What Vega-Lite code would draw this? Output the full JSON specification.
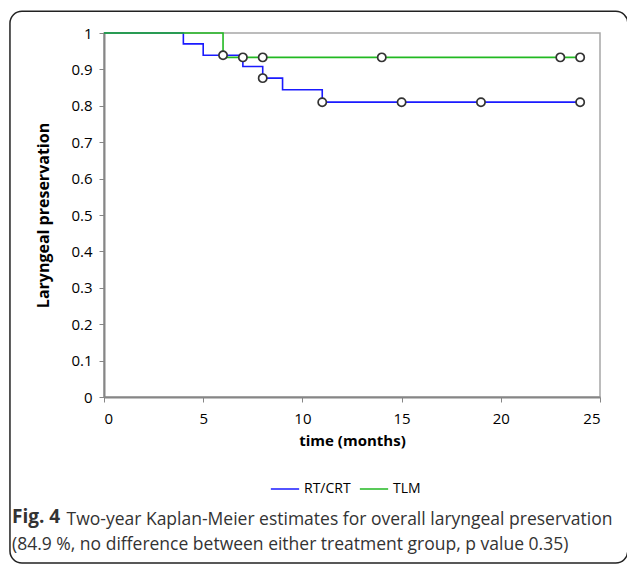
{
  "$schema": "https://vega.github.io/schema/vega-lite/v6.json",
  "width": 496,
  "height": 364,
  "autosize": {"type": "none"},
  "padding": {"left": 104, "top": 33, "right": 27, "bottom": 168},
  "background": "white",
  "datasets": {
    "curves": [
      {"group": "RT/CRT", "time": 0, "surv": 1},
      {"group": "RT/CRT", "time": 4, "surv": 0.97},
      {"group": "RT/CRT", "time": 5, "surv": 0.939},
      {"group": "RT/CRT", "time": 7, "surv": 0.908},
      {"group": "RT/CRT", "time": 8, "surv": 0.876},
      {"group": "RT/CRT", "time": 9, "surv": 0.844},
      {"group": "RT/CRT", "time": 11, "surv": 0.81},
      {"group": "RT/CRT", "time": 24, "surv": 0.81},
      {"group": "TLM", "time": 0, "surv": 1},
      {"group": "TLM", "time": 6, "surv": 0.933},
      {"group": "TLM", "time": 24, "surv": 0.933}
    ],
    "censored": [
      {"group": "RT/CRT", "time": 6, "surv": 0.939},
      {"group": "RT/CRT", "time": 8, "surv": 0.876},
      {"group": "RT/CRT", "time": 11, "surv": 0.81},
      {"group": "RT/CRT", "time": 15, "surv": 0.81},
      {"group": "RT/CRT", "time": 19, "surv": 0.81},
      {"group": "RT/CRT", "time": 24, "surv": 0.81},
      {"group": "TLM", "time": 7, "surv": 0.933},
      {"group": "TLM", "time": 8, "surv": 0.933},
      {"group": "TLM", "time": 14, "surv": 0.933},
      {"group": "TLM", "time": 23, "surv": 0.933},
      {"group": "TLM", "time": 24, "surv": 0.933}
    ]
  },
  "title": {
    "text": "Fig. 4",
    "orient": "bottom",
    "anchor": "start",
    "frame": "group",
    "dx": -92,
    "offset": -56,
    "font": "Open Sans",
    "fontSize": 19,
    "fontWeight": "bold",
    "color": "#333333",
    "subtitle": [
      "\u200b\u00a0\u00a0\u00a0\u00a0\u00a0\u00a0\u00a0\u00a0\u00a0\u00a0\u00a0\u00a0Two-year Kaplan-Meier estimates for overall laryngeal preservation",
      "(84.9 %, no difference between either treatment group, p value 0.35)"
    ],
    "subtitleFont": "Open Sans",
    "subtitleFontSize": 17.5,
    "subtitleFontWeight": "normal",
    "subtitleColor": "#333333",
    "subtitleLineHeight": 25,
    "subtitlePadding": -16
  },
  "config": {
    "view": {"stroke": "#a6a6a6", "strokeWidth": 1.5},
    "axis": {
      "grid": false,
      "domainColor": "#868686",
      "domainWidth": 2,
      "tickColor": "#868686",
      "tickWidth": 1,
      "tickSize": 5,
      "labelFont": "Open Sans",
      "labelFontSize": 15,
      "labelColor": "#000000",
      "titleFont": "Open Sans",
      "titleFontWeight": "bold",
      "titleColor": "#000000"
    },
    "legend": {
      "labelFont": "Open Sans",
      "labelFontSize": 14,
      "labelColor": "#000000"
    }
  },
  "layer": [
    {
      "data": {"name": "curves"},
      "mark": {"type": "line", "interpolate": "step-after", "strokeWidth": 1.6},
      "encoding": {
        "x": {
          "field": "time",
          "type": "quantitative",
          "scale": {"domain": [0, 25], "nice": false},
          "axis": {
            "values": [0, 5, 10, 15, 20, 25],
            "title": "time (months)",
            "titleFontSize": 15,
            "labelPadding": 9,
            "titlePadding": 7
          }
        },
        "y": {
          "field": "surv",
          "type": "quantitative",
          "scale": {"domain": [0, 1], "nice": false},
          "axis": {
            "values": [0, 0.1, 0.2, 0.3, 0.4, 0.5, 0.6, 0.7, 0.8, 0.9, 1],
            "labelOverlap": false,
            "format": "~g",
            "title": "Laryngeal preservation",
            "titleFontSize": 16,
            "labelPadding": 7,
            "titlePadding": 19
          }
        },
        "color": {
          "field": "group",
          "type": "nominal",
          "scale": {"domain": ["RT/CRT", "TLM"], "range": ["#1a1aff", "#22b922"]},
          "legend": {
            "title": null,
            "orient": "none",
            "direction": "horizontal",
            "legendX": 166,
            "legendY": 441,
            "symbolType": "stroke",
            "symbolSize": 800,
            "symbolStrokeWidth": 1.5,
            "columnPadding": 5,
            "labelOffset": 4
          }
        }
      }
    },
    {
      "data": {"name": "censored"},
      "mark": {"type": "point", "shape": "circle", "filled": false, "fill": "white", "stroke": "#333333", "strokeWidth": 1.7, "size": 68, "opacity": 1},
      "encoding": {
        "x": {
          "field": "time",
          "type": "quantitative",
          "axis": {
            "values": [0, 5, 10, 15, 20, 25],
            "title": "time (months)",
            "titleFontSize": 15,
            "labelPadding": 9,
            "titlePadding": 7
          }
        },
        "y": {
          "field": "surv",
          "type": "quantitative",
          "axis": {
            "values": [0, 0.1, 0.2, 0.3, 0.4, 0.5, 0.6, 0.7, 0.8, 0.9, 1],
            "labelOverlap": false,
            "format": "~g",
            "title": "Laryngeal preservation",
            "titleFontSize": 16,
            "labelPadding": 7,
            "titlePadding": 19
          }
        }
      }
    },
    {
      "data": {"values": [{}]},
      "mark": {"type": "rect", "fill": null, "stroke": "#222222", "strokeWidth": 1.5, "cornerRadius": 12, "clip": false},
      "encoding": {
        "x": {
          "datum": -4.74,
          "type": "quantitative",
          "axis": {
            "values": [0, 5, 10, 15, 20, 25],
            "title": "time (months)",
            "titleFontSize": 15,
            "labelPadding": 9,
            "titlePadding": 7
          }
        },
        "x2": {"datum": 26.4},
        "y": {
          "datum": 1.06,
          "type": "quantitative",
          "axis": {
            "values": [0, 0.1, 0.2, 0.3, 0.4, 0.5, 0.6, 0.7, 0.8, 0.9, 1],
            "labelOverlap": false,
            "format": "~g",
            "title": "Laryngeal preservation",
            "titleFontSize": 16,
            "labelPadding": 7,
            "titlePadding": 19
          }
        },
        "y2": {"datum": -0.456}
      }
    }
  ]
}
